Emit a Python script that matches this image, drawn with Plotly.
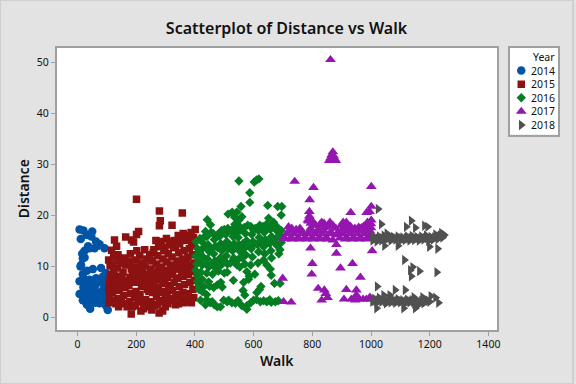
import plotly.graph_objects as go

TITLE = "Scatterplot of Distance vs Walk"
X_TICKS = [0, 200, 400, 600, 800, 1000, 1200, 1400]
Y_TICKS = [0, 10, 20, 30, 40, 50]
YEARS = ["2014", "2015", "2016", "2017", "2018"]

points_2014 = [
    (7,17.2),(20,17),(50,16.8),(32,16.1),(11,15.3),(63,14.8),(75,14.3),(92,13.5),(41,13.5),(24,13),(58,13.5),
    (18,11.5),(24,11.7),(12,10.2),(10,9.9),(80,9.6),(52,9.4),(32,9.1),(18,8.4),(7,7),(24,7.4),(41,7.3),(63,7.6),
    (86,7.9),(7,4.5),(18,3.3),(32,2.4),(43,1.6),(103,1.4),(97,2.2),(75,2.7),(30,6.5),(45,6),(60,6.2),(75,6.8),
    (90,6.5),(25,5),(40,4.5),(55,5),(70,4.8),(85,5.2),(35,3.5),(50,3.3),(65,3.8),(80,3.9),(92,3.5),(20,5.8),
    (15,4.3),(28,3),(60,2.8),(95,4.5),(42,5.5),(88,7.2),(36,13.9),(16,12.4),(70,14),(47,15.8),(96,8.6),(94,6),
]
points_2015 = [
    (201,23.1),(279,20.8),(357,20.4),(282,18.9),(279,17.9),(322,18),(208,16.8),(201,16.2),(164,15.7),(184,15.1),
    (191,14.7),(126,15.1),(133,13.9),(116,13.1),
    (108,2.8),(110,4.2),(106,5.6),(109,7),(112,8.4),(111,10),(106,11.2),
    (122,3.2),(119,4.8),(125,6),(121,7.6),(124,9),(118,10.4),(123,11.8),
    (140,2),(137,3.6),(142,5.2),(139,6.6),(143,8),(136,9.6),(141,11),(138,12.2),
    (160,2.6),(157,4.2),(162,5.8),(159,7.2),(155,8.8),(163,10.2),(158,11.6),
    (178,3),(181,4.6),(175,6.2),(179,7.8),(183,9.4),(176,10.8),(180,12.4),
    (197,2.2),(183,0.6),(194,3.8),(199,5),(195,6.8),(201,8.2),(193,9.8),(198,11.2),(202,13),
    (216,1.2),(220,3),(213,4.4),(218,6),(214,7.6),(221,9),(217,10.6),(212,12),
    (235,2),(232,3.4),(238,5.4),(233,7),(237,8.4),(230,10),(236,11.4),(229,13.2),
    (253,1.4),(250,3),(256,4.8),(251,6.4),(255,8),(249,9.4),(254,11),(258,12.6),
    (272,2.4),(269,4),(275,5.8),(270,7.4),(274,9),(268,10.4),(273,12),(276,13.8),(267,15),
    (290,1.2),(278,0.8),(287,3.2),(293,5),(288,6.6),(292,8.2),(286,9.8),(291,11.4),(294,13),(285,14.8),
    (308,2.6),(305,4.4),(311,6.2),(306,7.8),(310,9.2),(304,10.8),(309,12.4),(312,14.2),(303,15.4),
    (326,3.2),(323,5.2),(329,6.8),(324,8.6),(328,10.2),(322,11.8),(327,13.6),(330,15),
    (344,2.6),(341,4.4),(347,6),(342,7.6),(346,9.4),(340,11),(345,12.6),(348,14.4),(343,16),
    (362,2.8),(359,4.8),(365,6.4),(360,8),(364,9.8),(358,11.4),(363,13),(366,15),(360,16.4),
    (380,3),(377,4.6),(383,6.8),(378,8.4),(382,10.2),(376,11.8),(381,13.4),(384,15.2),(378,16),
    (396,3.8),(393,5.4),(399,7.2),(394,9),(398,10.6),(392,12.2),(397,14),(395,15.6),(401,17.2),
    (131,2.6),(130,7),(149,3),(150,7.6),(169,2),(168,6.6),(172,11),(187,2),(190,7),(206,3),(209,7.4),(225,1.6),(228,6.8),
    (244,2.6),(243,7.6),(246,12.2),(262,2.2),(261,7),(260,13.2),(280,3),(283,8),(279,14.6),(299,2),(298,7.2),(298,13.6),
    (316,3.6),(319,8.4),(316,14.8),(334,2.4),(337,7.6),(334,14),(352,3.4),(355,8.8),(352,15.6),(370,3.6),(373,9),(370,15.8),
    (388,2.8),(390,9.6),(389,14.6),(387,16.6),
    (152,10.6),(226,8.2),(263,8.6),(281,9.6),(300,8.8),(317,10),(335,9.4),(353,10.4),(371,10.8),(188,8.8),(207,9.4),
    (243,5),(262,5.4),(280,4.8),(299,3.8),(316,5.4),(335,4.2),
]
points_2016 = [
    (550,26.7),(618,27.1),(602,26.5),(610,26.9),(587,24.4),(587,22.5),(648,21.9),(682,21.7),(696,21.7),(694,20),
    (557,21.7),(527,20.6),(513,20.2),(543,20.6),(560,19.7),(442,19.1),(453,18.1),(651,19.4),(668,18.6),(535,19.6),(550,19),
    (510,8.8),(531,7.2),(577,8.9),(604,8.4),(583,7.4),(566,6.8),(564,5.2),(570,4.3),(620,5.4),(611,4.8),
    (660,8.2),(657,9.4),(645,10.2),(671,6.6),(690,6.6),(447,6.9),(414,6.3),(431,6),(476,6.3),(464,5.8),(493,5.9),
    (414,5.4),(419,3.3),(436,2.4),(459,3),(476,2),(487,2),(498,3.3),(515,3.3),(538,2.7),(577,1.5),(577,2.2),
    (600,3.3),(623,3),(645,3),(674,3),(526,2.8),(560,2.2),(402,9.2),(408,8.2),(470,9.6),(408,7),(440,3.4),(466,2.4),
    (590,2.8),(610,3.4),(634,3.2),(660,2.9),(538,10.9),(634,11.2),(661,11.6),(690,13.2),
    (406,10.4),(403,12),(409,13.4),(404,14.8),
    (425,10.2),(428,11.8),(422,13.2),(427,14.6),(430,15.6),
    (447,9.8),(443,11.4),(449,12.8),(445,14.2),(441,15.8),
    (468,11),(464,12.4),(470,13.9),(466,15.2),(462,16.4),
    (490,10.2),(486,11.6),(492,13),(488,14.4),(484,15.8),(491,17),
    (511,10.4),(507,12),(513,13.4),(509,14.8),(505,16.2),(512,17.4),
    (532,11.6),(528,13),(534,14.4),(530,15.8),(526,17),(536,18.2),
    (553,9.8),(549,11.4),(555,12.8),(551,14.2),(547,15.6),(554,17),(548,18),
    (574,12.2),(570,13.6),(576,15),(572,16.4),(568,17.6),
    (596,11.8),(592,13.4),(598,14.8),(594,16.2),(590,17.8),(600,17),
    (617,12.8),(613,14.2),(619,15.6),(615,17),(621,18),
    (638,12.4),(634,13.8),(640,15.2),(636,16.6),(632,17.8),(644,18.2),
    (659,13),(655,14.4),(661,15.8),(657,17.2),(663,18),
    (680,14),(676,15.4),(682,16.8),(678,17.8),(696,15.8),(694,17),(694,14.6),
    (415,11),(416,12.6),(417,15.4),(436,10.6),(435,13.8),(436,16.8),(457,10.4),(456,13.4),(455,16.6),
    (479,10.4),(478,13.6),(477,16.2),(500,11),(501,14),(500,17.2),(521,10.6),(522,14),(520,17),
    (543,10.2),(544,13.8),(542,16.6),(538,17.8),(562,11.6),(563,14.4),(559,17.2),(581,14),(580,18),
    (604,14.4),(605,17.4),(625,15),(626,17.6),(647,14.6),(648,17.4),(668,15),(669,17.6),
    (686,12.4),(685,16.6),(450,6),(425,5),(440,4.4),(488,6.8),(510,3),(547,3.2),(655,3.4),(684,3.2),(452,2.8),(585,8),(625,6),
    (420,8.8),(440,8.6),(460,8.4),(480,9),(500,8.6),(425,7.4),(615,10.6),(590,10.2),(570,10.4),
]
points_2017 = [
    (862,50.5),(870,32.4),(866,31.8),(873,31.6),(862,31.2),(876,31),(858,30.7),(868,30.7),(880,30.7),
    (740,26.6),(804,25.4),(1001,25.6),(791,23),(790,20.7),(931,20.5),(995,20.7),(1001,21.7),(985,20.5),(1001,19),
    (798,19),(832,18.6),(860,18.6),(916,18.6),(899,18),(967,17.5),(719,17.7),(758,17.4),(785,19),(808,18),
    (845,17.6),(880,17.4),(925,17.5),(950,17),(990,18),
    (812,18),(826,18.2),(840,18.4),(855,17.8),(870,18),(905,18.6),(918,17.6),(930,17.8),(945,17.4),(958,17.6),(975,17.8),
    (988,18.6),(1000,17.5),(1000,18.3),(788,18.8),(795,18.4),(790,19.8),
    (702,15.5),(714,16.3),(726,15.5),(738,16.3),(750,15.5),(762,16.3),(774,15.5),(786,16.3),(798,15.5),(810,16.3),
    (822,15.5),(834,16.3),(846,15.5),(858,16.3),(870,15.1),(882,16.1),(894,15.5),(906,16.3),(918,15.5),(930,16.3),
    (942,15.5),(954,16.3),(966,15.5),(978,16.3),(990,15.5),(1000,16.3),(708,15.3),(732,15.3),(756,15.3),(780,15.3),
    (804,15.3),(828,15.3),(852,15.3),(912,15.3),(936,15.3),(960,15.3),(984,15.3),
    (720,16.9),(744,16.9),(768,16.6),(792,16.9),(816,16.9),(840,16.9),(864,16.6),(888,16.6),(900,16.9),(924,16.9),(948,16.9),(972,16.9),(996,16.9),
    (794,17.4),(820,17),(838,17.6),(905,17),(910,17.8),(975,17.4),(745,17.2),(730,17.4),
    (794,13.5),(882,12.5),(882,14.2),(1004,13),(800,10.5),(937,10.5),(896,9.6),(798,8.4),(964,7.8),(699,7.6),
    (820,5.6),(841,5.3),(916,5.4),(950,5.3),(852,3.8),(832,3.3),(908,3.5),(728,2.9),(702,3),(933,3.5),(946,3.3),
    (950,4.3),(973,3.5),(996,3.9),(984,3.5),(1000,3.5),(846,4.6),(960,3.5),
]
points_2018 = [
    (1024,21.2),(1035,18.2),(1137,18.9),(1120,17.7),(1151,17.5),(1182,17.9),(1193,17.7),(1054,16.4),
    (1046,14),(1092,14),(1199,13.8),(1227,13.4),(1114,11.2),(1142,9.8),(1134,9.2),(1165,9),(1137,8),(1224,8.8),
    (1021,6),(1082,5.3),(1116,5.3),(1043,4.3),(1064,4.3),(1146,3.9),(1176,3.9),(1204,4.1),(1220,3.8),(1230,2.8),
    (1019,1.7),(1111,1.7),(1151,1.7),
    (1012,15.6),(1020,14.8),(1028,15.8),(1036,15),(1044,16),(1052,15.2),(1060,15.9),(1068,15),(1076,15.7),(1084,15.2),
    (1092,15.8),(1100,15),(1108,15.6),(1116,15.1),(1124,15.8),(1132,15),(1140,15.9),(1148,15.1),(1156,15.7),(1164,15),
    (1172,15.8),(1180,15.2),(1188,16),(1196,14.9),(1204,15.7),(1212,15.2),(1220,16.2),(1228,15.3),(1236,16),(1244,15.6),
    (1250,16.1),(1240,16.5),(1012,3.6),(1020,2.8),(1028,3.8),(1036,3),(1044,3.5),(1052,2.7),(1060,3.6),(1068,2.9),
    (1076,3.4),(1084,2.8),(1092,3.5),(1100,2.9),(1108,3.3),(1116,2.7),(1124,3.4),(1132,2.9),(1140,3.3),(1148,2.6),
    (1156,3.2),(1164,2.5),(1172,3.2),(1180,2.7),(1190,3.3),(1200,3),
    (1005,15.9),(1006,15),(1010,15.3),(1016,15.5),(1024,15.4),(1032,15.5),(1040,15.4),(1048,15.6),(1056,15.5),(1064,15.5),(1072,15.4),(1080,15.5),(1088,15.4),
    (1096,15.5),(1104,15.4),(1112,15.4),(1120,15.5),(1128,15.4),(1136,15.5),(1144,15.5),(1152,15.4),(1160,15.5),(1168,15.4),(1176,15.5),(1184,15.5),(1192,15.5),
    (1200,15.4),(1208,15.5),(1216,15.6),(1224,15.7),(1232,15.8),(1240,15.9),(1246,16),
    (1005,3),(1010,3.2),(1016,3.2),(1024,3.3),(1032,3.4),(1040,3.2),(1048,3.1),(1056,3.2),(1064,3.2),(1072,3.1),(1080,3.1),(1088,3.2),(1096,3.2),(1104,3.1),
    (1112,3),(1120,3.1),(1128,3.1),(1136,3.1),(1144,3),(1152,3),(1160,2.9),(1168,2.9),(1176,3),(1184,3),(1195,3.2),
]

COLORS = {"2014": "#0054A6", "2015": "#8C1212", "2016": "#057D22", "2017": "#9515B0", "2018": "#505050"}
SYMBOLS = {"2014": "circle", "2015": "square", "2016": "diamond", "2017": "triangle-up", "2018": "triangle-right"}
SIZES = {"2014": 8.5, "2015": 7.5, "2016": 7.2, "2017": 9.5, "2018": 9}
SERIES = {"2014": points_2014, "2015": points_2015, "2016": points_2016, "2017": points_2017, "2018": points_2018}

W, H = 576, 384
FONT = "Noto Sans"
fig = go.Figure()
for year in YEARS:
    xs, ys = zip(*SERIES[year])
    fig.add_trace(go.Scatter(x=list(xs), y=list(ys), mode="markers", name=year, showlegend=False,
                             marker=dict(symbol=SYMBOLS[year], color=COLORS[year], size=SIZES[year], line_width=0)))

# Legend panel, drawn as a small subplot
rows = list(reversed(YEARS)) + ["Year"]
for year in YEARS:
    fig.add_trace(go.Scatter(x=[11.5], y=[rows.index(year)], mode="markers", xaxis="x2", yaxis="y2", showlegend=False,
                             marker=dict(symbol=SYMBOLS[year], color=COLORS[year], size=SIZES[year], line_width=0)))

annotations = [dict(x=47, y=i, xref="x2", yref="y2", text=r, showarrow=False, xanchor="right", yanchor="middle",
                    font=dict(family=FONT, size=10.5, color="#111111")) for i, r in enumerate(rows)]

axis_line = "#A0A0A0"
fig.update_layout(
    width=W, height=H, margin=dict(l=0, r=0, t=0, b=0, pad=0),
    paper_bgcolor="#E3E3E3", plot_bgcolor="#FFFFFF", showlegend=False,
    title=dict(text=TITLE, x=0.5, xanchor="center", xref="paper", y=1 - 28 / H, yanchor="middle", yref="paper",
               font=dict(family=FONT, size=16, color="#111111", weight=600)),
    xaxis=dict(domain=[57 / W, 499.5 / W], range=[-71, 1429], tickvals=X_TICKS, ticks="outside", ticklen=4,
               tickcolor=axis_line, tickfont=dict(family=FONT, size=10.5, color="#111111"), showgrid=False, zeroline=False,
               showline=True, linecolor=axis_line, linewidth=1.5, mirror=True, anchor="y",
               title=dict(text="Walk", standoff=4, font=dict(family=FONT, size=14, color="#111111", weight=600))),
    yaxis=dict(domain=[1 - 330 / H, 1 - 47.5 / H], range=[-2.55, 52.9], tickvals=Y_TICKS, ticks="outside", ticklen=4,
               tickcolor=axis_line, tickfont=dict(family=FONT, size=10.5, color="#111111"), showgrid=False, zeroline=False,
               showline=True, linecolor=axis_line, linewidth=1.5, mirror=True, anchor="x",
               title=dict(text="Distance", standoff=4, font=dict(family=FONT, size=14, color="#111111", weight=600))),
    xaxis2=dict(domain=[512.5 / W, 561 / W], range=[0, 48.5], showticklabels=False, ticks="", showgrid=False, zeroline=False,
                showline=True, linecolor=axis_line, linewidth=1.5, mirror=True, anchor="y2"),
    yaxis2=dict(domain=[1 - 134.5 / H, 1 - 47.5 / H], range=[-0.7, 5.7], showticklabels=False, ticks="", showgrid=False, zeroline=False,
                showline=True, linecolor=axis_line, linewidth=1.5, mirror=True, anchor="x2"),
    annotations=annotations,
    shapes=[dict(type="rect", xref="paper", yref="paper", x0=0, x1=1, y0=0, y1=1, line=dict(color="#CFCFCF", width=2), layer="below")],
)
fig.write_html("out.html", config={"displayModeBar": False},
               post_script="document.body.style.margin='0';document.documentElement.style.overflow='hidden';")
